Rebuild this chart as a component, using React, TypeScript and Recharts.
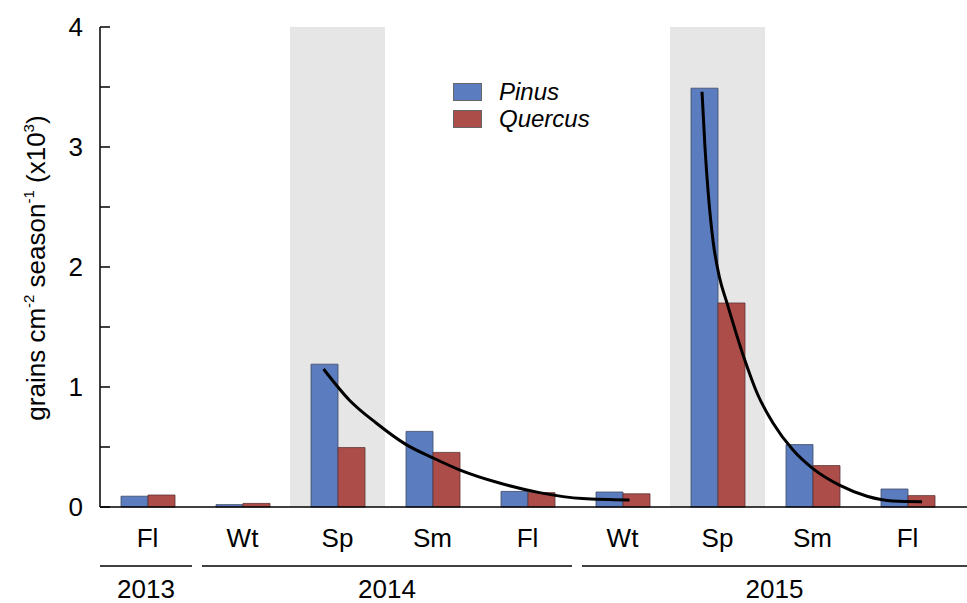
import { ComposedChart, Bar, Line, XAxis, YAxis, ReferenceArea, Legend } from 'recharts';

// seasons in sampling order, with the year each belongs to
const SEASONS = ['Fl', 'Wt', 'Sp', 'Sm', 'Fl', 'Wt', 'Sp', 'Sm', 'Fl'];
const SEASON_YEARS = ['2013', '2014', '2014', '2014', '2014', '2015', '2015', '2015', '2015'];

// grains cm-2 season-1 (x10^3)
const PINUS = [0.09, 0.02, 1.19, 0.63, 0.13, 0.125, 3.49, 0.52, 0.15];
const QUERCUS = [0.1, 0.03, 0.495, 0.455, 0.12, 0.11, 1.7, 0.345, 0.095];

// spring seasons get the grey band
const SPRING_KEYS = ['Sp-2014', 'Sp-2015'];

// decay curves after each spring peak (t = seasons counted from Fl 2013)
const DECAY_2014_T = [1.853, 2.126, 2.407, 2.723, 3.003, 3.284, 3.705, 4.126, 4.579, 5.074];
const DECAY_2014_V = [1.15, 0.89, 0.7, 0.52, 0.41, 0.31, 0.2, 0.12, 0.07, 0.058];
const DECAY_2015_T = [5.837, 5.868, 5.903, 5.956, 6.019, 6.1, 6.289, 6.416, 6.584, 6.795, 7.005, 7.289, 7.574, 7.847, 8.153];
const DECAY_2015_V = [3.46, 3.0, 2.61, 2.2, 1.92, 1.7, 1.22, 0.95, 0.7, 0.475, 0.32, 0.18, 0.09, 0.05, 0.044];

const Y_TICKS = [0, 0.5, 1, 1.5, 2, 2.5, 3, 3.5, 4];

const KEYS = SEASONS.map((s, i) => `${s}-${SEASON_YEARS[i]}`);
const data = KEYS.map((key, i) => ({ key, pinus: PINUS[i], quercus: QUERCUS[i] }));
const decay2014 = DECAY_2014_T.map((t, i) => ({ t, v: DECAY_2014_V[i] }));
const decay2015 = DECAY_2015_T.map((t, i) => ({ t, v: DECAY_2015_V[i] }));

const W = 967;
const H = 603;
const LEFT = 100;
const TOP = 27;
const RIGHT_PAD = 12;
const BAND = (W - LEFT - RIGHT_PAD) / SEASONS.length;
const FONT = '"Liberation Sans", Arial, sans-serif';
const BLUE = '#5b7dbf';
const RED = '#ac4d4a';

const YTick = ({ y, payload }: any) => {
  const v = payload.value as number;
  return (
    <g>
      <line x1={LEFT} x2={LEFT + 10} y1={y} y2={y} stroke="#000" strokeWidth={1.5} />
      {Number.isInteger(v) && (
        <text x={LEFT - 17} y={y} dy={9} textAnchor="end" fontFamily={FONT} fontSize={26} fill="#000">
          {v}
        </text>
      )}
    </g>
  );
};

const SeasonTick = ({ x, y, payload }: any) => {
  const i = KEYS.indexOf(payload.value);
  const year = SEASON_YEARS[i];
  const isFirst = i === 0 || SEASON_YEARS[i - 1] !== year;
  let yearLabel = null;
  if (isFirst) {
    const count = SEASON_YEARS.filter((yr) => yr === year).length;
    const x1 = x - BAND / 2 + (i === 0 ? 0 : 7);
    const lastIdx = i + count - 1;
    const x2 = lastIdx === SEASONS.length - 1 ? W : x + (count - 1) * BAND + BAND / 2 - 3;
    yearLabel = (
      <g>
        <line x1={x1} x2={x2} y1={y + 59} y2={y + 59} stroke="#000" strokeWidth={1.5} />
        <text x={(x1 + x2) / 2} y={y + 91} textAnchor="middle" fontFamily={FONT} fontSize={26} fill="#000">
          {year}
        </text>
      </g>
    );
  }
  return (
    <g>
      <text x={x} y={y + 40} textAnchor="middle" fontFamily={FONT} fontSize={26} fill="#000">
        {SEASONS[i]}
      </text>
      {yearLabel}
    </g>
  );
};

const YLabel = () => (
  <text
    x={45}
    y={268}
    transform="rotate(-90, 45, 268)"
    textAnchor="middle"
    fontFamily={FONT}
    fontSize={26}
    fill="#000"
  >
    grains cm<tspan fontSize={15} dy={-11}>-2</tspan>
    <tspan dy={11}> season</tspan>
    <tspan fontSize={15} dy={-11}>-1</tspan>
    <tspan dy={11}> (x10</tspan>
    <tspan fontSize={15} dy={-11}>3</tspan>
    <tspan dy={11}>)</tspan>
  </text>
);

const renderLegend = ({ payload }: any) => (
  <div style={{ fontFamily: FONT, fontSize: 24, fontStyle: 'italic', color: '#000' }}>
    {(payload || [])
      .filter((p: any) => p.type !== 'none')
      .map((p: any) => (
        <div key={p.value} style={{ display: 'flex', alignItems: 'center', height: 27 }}>
          <span
            style={{
              display: 'inline-block',
              width: 27,
              height: 16,
              background: p.color,
              border: '1px solid #666',
              marginRight: 17,
            }}
          />
          {p.value}
        </div>
      ))}
  </div>
);

export default function App() {
  return (
    <div style={{ position: 'absolute', left: 0, top: 0, width: W, height: H, background: '#fff' }}>
      <ComposedChart
        width={W}
        height={H}
        data={data}
        margin={{ top: TOP, right: 0, bottom: 0, left: 0 }}
        barGap={0}
      >
        <XAxis
          dataKey="key"
          height={96}
          interval={0}
          padding={{ left: 0, right: RIGHT_PAD }}
          tickSize={0}
          tickMargin={0}
          tickLine={false}
          axisLine={{ stroke: '#000', strokeWidth: 1.5 }}
          tick={<SeasonTick />}
        />
        <XAxis xAxisId="top" dataKey="key" orientation="top" height={0} tick={false} tickLine={false} axisLine={{ stroke: '#000', strokeWidth: 1.5 }} />
        <XAxis
          xAxisId="num"
          dataKey="t"
          type="number"
          domain={[-0.5, SEASONS.length - 0.5]}
          allowDataOverflow
          padding={{ left: 0, right: RIGHT_PAD }}
          hide
        />
        <YAxis
          width={LEFT}
          domain={[0, 4]}
          ticks={Y_TICKS}
          interval={0}
          tickSize={0}
          tickMargin={0}
          tickLine={false}
          axisLine={{ stroke: '#000', strokeWidth: 1.5 }}
          tick={<YTick />}
          label={<YLabel />}
        />
        {SPRING_KEYS.map((k) => (
          <ReferenceArea key={k} x1={k} x2={k} y1={0} y2={4} fill="#e6e6e6" fillOpacity={1} stroke="none" />
        ))}
        <Bar dataKey="pinus" name="Pinus" fill={BLUE} stroke="#3d4a66" strokeWidth={0.8} barSize={27} isAnimationActive={false} />
        <Bar dataKey="quercus" name="Quercus" fill={RED} stroke="#5a3333" strokeWidth={0.8} barSize={27} isAnimationActive={false} />
        <Line
          xAxisId="num"
          data={decay2014}
          dataKey="v"
          type="monotone"
          stroke="#000"
          strokeWidth={3}
          dot={false}
          legendType="none"
          isAnimationActive={false}
        />
        <Line
          xAxisId="num"
          data={decay2015}
          dataKey="v"
          type="monotone"
          stroke="#000"
          strokeWidth={3}
          dot={false}
          legendType="none"
          isAnimationActive={false}
        />
        <Legend
          layout="vertical"
          align="center"
          verticalAlign="middle"
          content={renderLegend}
          wrapperStyle={{ top: 78, left: 453, width: 'auto' }}
        />
      </ComposedChart>
    </div>
  );
}
